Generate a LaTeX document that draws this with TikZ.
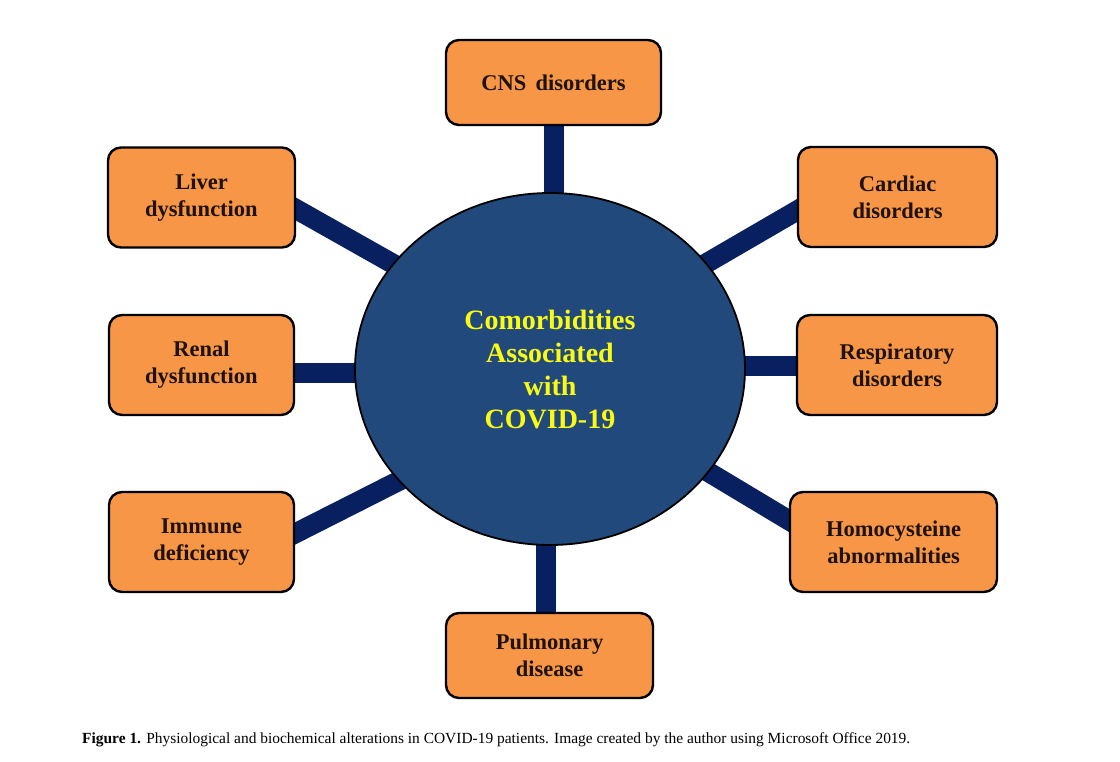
\documentclass[tikz,border=0pt]{standalone}
\usepackage{fontspec}
\setmainfont{Liberation Serif}
\usetikzlibrary{shapes.geometric,calc,backgrounds}
\definecolor{boxorange}{RGB}{247,150,70}
\definecolor{hubblue}{RGB}{33,73,123}
\definecolor{barnavy}{RGB}{8,32,96}
\definecolor{hubyellow}{RGB}{250,250,20}
\definecolor{boxtext}{RGB}{30,18,10}
\tikzset{
  box/.style={draw=black, line width=2.4pt, fill=boxorange, rounded corners=13pt,
    inner sep=0pt, outer sep=0pt, align=center, text=boxtext,
    font=\fontsize{22.5}{27}\selectfont\bfseries, minimum height=100pt},
  hubnode/.style={ellipse, draw=black, line width=1.8pt, fill=hubblue,
    minimum width=390pt, minimum height=352pt, inner sep=0pt, outer sep=0pt,
    align=center, text=hubyellow, font=\fontsize{28}{33}\selectfont\bfseries},
  bar/.style={draw=barnavy, line width=20pt, line cap=butt, shorten <=-20pt}
}
\begin{document}
\begin{tikzpicture}[x=1pt,y=-1pt]
\useasboundingbox (0,0) rectangle (1120,762);
% boxes
\node[box, minimum width=215pt, minimum height=85pt] (cns) at (553.5,82.5) {CNS\, disorders};
\node[box, minimum width=187pt] (liver) at (201.5,197.5) {Liver\\dysfunction};
\node[box, minimum width=199pt] (cardiac) at (897.5,197) {Cardiac\\disorders};
\node[box, minimum width=185pt] (renal) at (201.5,365) {Renal\\dysfunction};
\node[box, minimum width=200pt] (resp) at (897,365) {Respiratory\\disorders};
\node[box, minimum width=185pt] (immune) at (201.5,542) {Immune\\deficiency};
\node[box, minimum width=207pt] (homo) at (893.5,542) {Homocysteine\\abnormalities};
\node[box, minimum width=207pt, minimum height=85pt] (pulm) at (549.5,655.5) {Pulmonary\\disease};
% hub
\node[hubnode] (hub) at (550,369) {Comorbidities\\Associated\\with\\COVID-19};
% connector ends inside the hub
\coordinate (hl) at (450,296);
\coordinate (hc) at (650,296);
\coordinate (hi) at (450,455);
\coordinate (hh) at (650,437);
\coordinate (hn) at (553.5,369);
\coordinate (hp) at (546,369);
\coordinate (hr) at (550,373);
\coordinate (hs) at (550,366);
% connectors behind everything
\begin{scope}[on background layer]
\fill[white] (0,0) rectangle (1120,762);
\draw[bar] (cns.south) -- (hn);
\draw[bar] ([xshift=-3.5pt]pulm.north) -- (hp);
\draw[bar] ([yshift=-8pt]renal.east) -- (hr);
\draw[bar] ([yshift=-1pt]resp.west) -- (hs);
\draw[bar] ([yshift=-11pt]liver.east) -- (hl);
\draw[bar] ([yshift=-13pt]cardiac.west) -- (hc);
\draw[bar] ([yshift=8pt]immune.east) -- (hi);
\draw[bar] ([yshift=21pt]homo.west) -- (hh);
\end{scope}
% caption
\node[anchor=base west, inner sep=0pt] (caption) at (82,743)
  {\resizebox{828pt}{!}{\fontsize{14}{16}\selectfont\textbf{Figure 1.} Physiological and biochemical alterations in COVID-19 patients. Image created by the author using Microsoft Office 2019.}};
\end{tikzpicture}
\end{document}
